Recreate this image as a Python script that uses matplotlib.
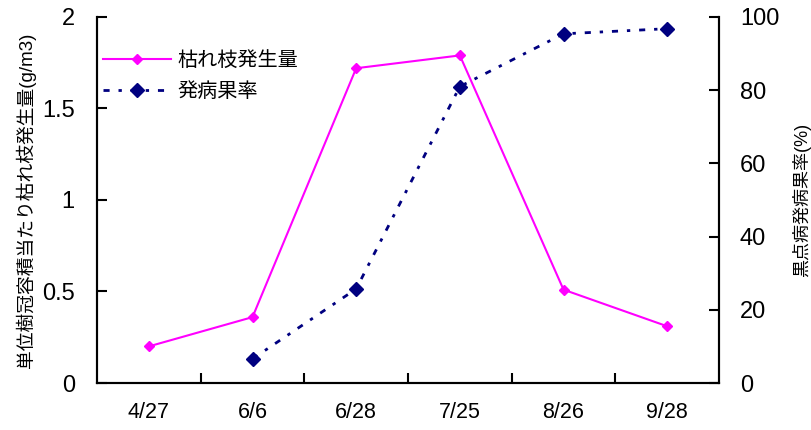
import matplotlib
matplotlib.use("Agg")
import matplotlib.pyplot as plt

plt.rcParams['font.family'] = ['Liberation Sans', 'Noto Sans CJK JP', 'DejaVu Sans']

# data
dates = ['4/27', '6/6', '6/28', '7/25', '8/26', '9/28']
dead_branch = [0.20, 0.36, 1.72, 1.79, 0.51, 0.31]      # g/m3
infect_dates = ['6/6', '6/28', '7/25', '8/26', '9/28']
infect_rate = [6.6, 25.7, 81.0, 95.4, 96.8]              # %

pink = '#FF00FF'
navy = '#000080'

fig = plt.figure(figsize=(8.11, 4.30), dpi=100)
ax = fig.add_axes([0.1196, 0.1093, 0.767, 0.8512])
ax2 = ax.twinx()

xs = list(range(len(dates)))
xs2 = [dates.index(d) for d in infect_dates]

l1, = ax.plot(xs, dead_branch, color=pink, lw=1.5, marker='D', ms=5.5,
              label='枯れ枝発生量', zorder=3)
l2, = ax2.plot(xs2, infect_rate, color=navy, lw=2,
               linestyle=(0, (2.2, 3.2, 1.2, 3.2)),
               marker='D', ms=7.5, label='発病果率', zorder=3)

ax.set_xlim(-0.5, len(dates) - 0.5)
ax.set_ylim(0, 2)
ax2.set_ylim(0, 100)

ax.set_xticks(xs)
ax.set_xticklabels(dates, fontsize=15.5)
ax.set_xticks([x + 0.5 for x in xs[:-1]], minor=True)
ax.tick_params(axis='x', which='major', length=0, pad=14)
ax.tick_params(axis='x', which='minor', direction='in', length=7, width=1.5)

ax.set_yticks([0, 0.5, 1, 1.5, 2])
ax.set_yticklabels(['0', '0.5', '1', '1.5', '2'])
ax.tick_params(axis='y', direction='in', length=7, width=1.5, labelsize=17, pad=16)

ax2.set_yticks([0, 20, 40, 60, 80, 100])
ax2.tick_params(axis='y', direction='in', length=7, width=1.5, labelsize=17, pad=15)

for a in (ax, ax2):
    a.spines['top'].set_visible(False)
    for s in ('left', 'right', 'bottom'):
        a.spines[s].set_linewidth(1.5)

ax.set_ylabel('単位樹冠容積当たり枯れ枝発生量(g/m3)', fontsize=13.5, labelpad=4)
ax2.set_ylabel('黒点病発病果率(%)', fontsize=13, labelpad=9)

ax.legend(handles=[l1, l2], loc='upper left', bbox_to_anchor=(-0.013, 0.945),
          frameon=False, fontsize=14.5, handlelength=3.4, handletextpad=0.3,
          labelspacing=0.6, borderaxespad=0.3)

fig.savefig('out.png', dpi=100)
